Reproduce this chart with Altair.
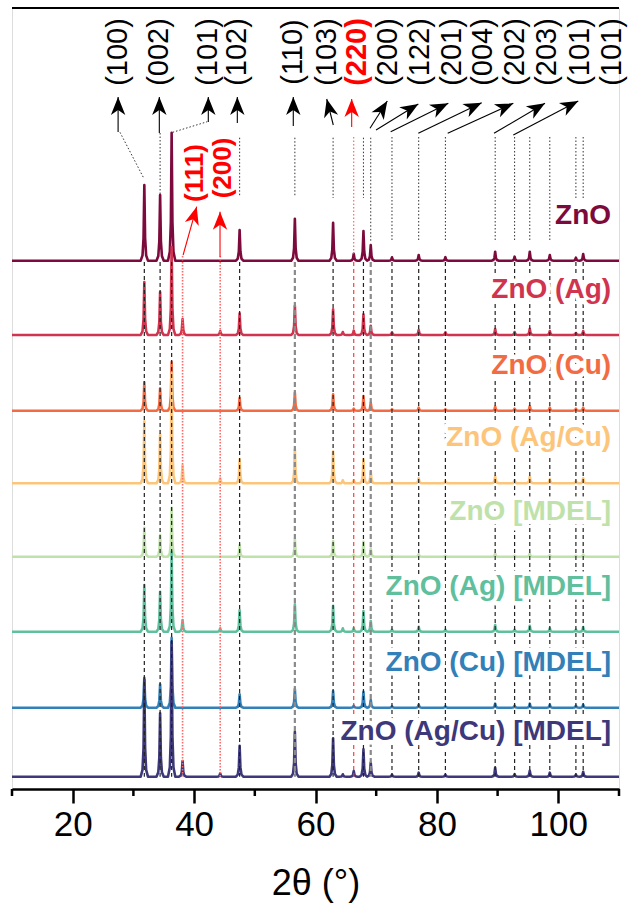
import math
import altair as alt
import pandas as pd

# ---------------- data ----------------
samples = ["ZnO", "ZnO (Ag)", "ZnO (Cu)", "ZnO (Ag/Cu)", "ZnO [MDEL]",
           "ZnO (Ag) [MDEL]", "ZnO (Cu) [MDEL]", "ZnO (Ag/Cu) [MDEL]"]
colors = ["#7d0a3c", "#d0344f", "#f26b43", "#fcc57a", "#bfe2ab",
          "#60bf9d", "#3380b8", "#3d3879"]
offsets = [528.3, 454.0, 378.3, 305.7, 232.3, 157.3, 81.3, 12.3]

peak_pos = [31.8, 34.4, 36.3, 38.1, 44.3, 47.5, 56.6, 62.9, 64.5, 66.3, 67.9,
            69.1, 72.6, 77.0, 81.4, 89.6, 92.8, 95.3, 98.6, 102.9, 104.1]
h_zno = [75.7, 65.7, 128, 0, 0, 30.7, 42, 38, 0, 7, 29.7, 15.7, 3.4, 5.7, 3.5, 9, 4, 9, 5.7, 3, 6.7]
h_ag = [53, 43, 88, 16, 4, 21.7, 29.3, 25.7, 3, 4.3, 20.7, 9.3, 2.7, 5, 2.7, 6, 3, 6.3, 4, 2, 4]
h_cu = [28.3, 22.3, 49, 0, 0, 13, 18, 16.3, 0, 2, 14.7, 8, 1.5, 3, 1.5, 4, 2, 4.7, 3, 2, 3]
h_agcu = [62, 49, 110, 18, 5, 24, 34, 31.7, 3, 3, 24, 11.6, 2, 5, 2, 7, 3, 6.5, 4, 2, 5]
h_mdel = [29, 21.7, 49, 0, 0, 11.7, 17.7, 15.7, 0, 2, 15, 8.4, 1, 2.5, 1, 3, 1, 3, 1.5, 1, 2]
h_ag_mdel = [46.7, 40, 80, 11.7, 3.4, 21.7, 27.4, 26, 3.4, 3.5, 20.7, 10.7, 2, 5, 2, 6.7, 2, 6, 3.5, 2, 4.7]
h_cu_mdel = [30, 23.4, 70, 0, 0, 13.4, 18.7, 16.7, 0, 2, 16, 7.7, 1.5, 3, 1.5, 4, 2, 4, 3, 2, 3]
h_agcu_mdel = [97, 63.4, 135, 15.7, 3.4, 31, 45, 38.4, 2.4, 5.7, 27.4, 14, 2, 4, 2, 9, 2.5, 6, 4, 2, 5]
heights = [h_zno, h_ag, h_cu, h_agcu, h_mdel, h_ag_mdel, h_cu_mdel, h_agcu_mdel]

# reference lines
black_lines = [31.8, 34.4, 36.3, 47.5, 62.9, 67.9, 72.6, 77.0, 81.4, 89.6,
               92.8, 95.3, 98.6, 102.9, 104.1]
gray_lines = [56.6, 69.1]
red_dashed = [66.3]
red_dotted = [38.1, 44.3]
lower_top, lower_bottom = 527.0, 12.3

# upper dotted connectors (x1, y1, x2, y2)
up_x1 = [27.79, 34.4, 36.47, 47.5, 56.6, 62.9, 67.9, 69.1, 72.6, 77.0, 81.4, 89.6, 92.8, 95.3, 98.6, 102.9, 104.1]
up_y1 = [656.7, 656.0, 656.7, 651.3, 651.3, 651.3, 651.3, 651.3, 652.0, 652.0, 652.0, 652.0, 652.0, 652.0, 652.0, 652.0, 652.0]
up_x2 = [31.63, 34.4, 42.17, 47.5, 56.6, 62.9, 67.9, 69.1, 72.6, 77.0, 81.4, 89.6, 92.8, 95.3, 98.6, 102.9, 104.1]
up_y2 = [611.7, 595.0, 667.3, 592.3, 592.3, 591.0, 591.0, 547.3, 548.0, 547.3, 549.0, 549.0, 549.0, 549.0, 549.0, 591.0, 591.0]

# hkl labels along the top
hkl_labels = ["(100)", "(002)", "(101)", "(102)", "(110)", "(103)", "(220)", "(200)",
              "(122)", "(201)", "(004)", "(202)", "(203)", "(101)", "(101)"]
hkl_x = [27.46, 34.27, 42.34, 47.12, 56.34, 61.84, 66.79, 71.94, 77.22, 82.44,
         87.55, 92.87, 98.09, 103.58, 108.80]
hkl_y = 737.0
hkl_red = [False, False, False, False, False, False, True, False,
           False, False, False, False, False, False, False]

# arrows: tail (x, y) -> tip (x, y)
arr_x1 = [27.48, 34.27, 42.34, 47.12, 56.34, 62.93, 65.96, 68.98, 69.97, 72.39, 76.94, 81.78, 89.41, 92.59]
arr_y1 = [657.0, 656.0, 667.0, 666.0, 663.0, 664.0, 662.0, 660.7, 659.0, 657.3, 655.7, 655.7, 655.7, 654.0]
arr_x2 = [27.48, 34.27, 42.34, 47.12, 56.34, 61.85, 65.96, 71.83, 76.94, 81.88, 87.38, 92.59, 97.81, 103.29]
arr_y2 = [692.0, 692.0, 692.0, 692.0, 692.0, 690.0, 690.0, 688.0, 685.0, 685.7, 686.3, 685.7, 685.7, 688.0]
arr_red = [False] * 6 + [True] + [False] * 7

# Ag reflections (red)
ag_labels = ["(111)", "(200)"]
ag_lab_x = [40.15, 44.81]
ag_lab_y = [616.0, 621.0]
ag_arr_x1 = [38.19, 44.27]
ag_arr_y1 = [534.0, 532.3]
ag_arr_x2 = [40.43, 44.27]
ag_arr_y2 = [582.3, 577.3]

x_ticks = [20, 40, 60, 80, 100]
x_minor = [10, 30, 50, 70, 90, 110]

# ---------------- layout ----------------
W, H = 607, 781
XMIN, XMAX, YMAX = 10, 110, 781
SX, SY = W / (XMAX - XMIN), H / YMAX
FONT = "Liberation Sans"

xs = alt.Scale(domain=[XMIN, XMAX], nice=False, zero=False)
ys = alt.Scale(domain=[0, YMAX], nice=False, zero=False)
x_axis = alt.Axis(values=x_ticks, tickSize=14, tickWidth=2.5, tickColor="black",
                  domainWidth=2.5, domainColor="black", labelFontSize=35,
                  labelFont=FONT, labelColor="black", labelPadding=4,
                  title="2θ (°)", titleFont=FONT, titleFontSize=36,
                  titleFontWeight="normal", titleColor="black",
                  titlePadding=24, grid=False, labelFlush=False)


def X(field):
    return alt.X(field, scale=xs, axis=x_axis)


def Y(field):
    return alt.Y(field, scale=ys, axis=None)


# profile shape used for every reflection (style)
prof_dx = [-0.6, -0.3, -0.13, 0.0, 0.13, 0.3, 0.6]
prof_f = [0.0, 0.07, 0.3, 1.0, 0.3, 0.07, 0.0]

layers = []

# traces
for s, col, off, hs in zip(samples, colors, offsets, heights):
    pts = {XMIN: off, XMAX: off}
    for p, h in zip(peak_pos, hs):
        if h <= 0:
            continue
        for dx, f in zip(prof_dx, prof_f):
            xx = round(p + dx, 3)
            pts[xx] = max(pts.get(xx, off), off + f * h)
    xs_sorted = sorted(pts)
    df = pd.DataFrame({"x": xs_sorted, "y": [pts[k] for k in xs_sorted],
                       "i": range(len(xs_sorted))})
    layers.append(
        alt.Chart(df).mark_line(color=col, strokeWidth=2.6, strokeJoin="round")
        .encode(x=X("x:Q"), y=Y("y:Q"), order="i:Q")
    )


def vlines(xvals, y1, y2, **kw):
    df = pd.DataFrame({"x": xvals, "y1": [y1] * len(xvals), "y2": [y2] * len(xvals)})
    return alt.Chart(df).mark_rule(**kw).encode(x=X("x:Q"), y=Y("y1:Q"), y2="y2:Q")


layers.append(vlines(black_lines, lower_top, lower_bottom, color="#222222",
                     strokeWidth=1.2, strokeDash=[4, 3]))
layers.append(vlines(gray_lines, lower_top, lower_bottom, color="#8a8a8a",
                     strokeWidth=2.2, strokeDash=[5, 3]))
layers.append(vlines(red_dashed, lower_top, lower_bottom, color="#ff2a2a",
                     strokeWidth=1.1, strokeDash=[4, 3]))
layers.append(vlines(red_dotted, 533.0, lower_bottom, color="#ff6a6a",
                     strokeWidth=1.6, strokeDash=[1.5, 1.5]))
layers.append(vlines(red_dashed, 652.0, 533.0, color="#ff4a4a",
                     strokeWidth=1.0, strokeDash=[1.5, 2]))

# upper connectors
up_df = pd.DataFrame({"x1": up_x1, "y1": up_y1, "x2": up_x2, "y2": up_y2})
layers.append(
    alt.Chart(up_df).mark_rule(color="#333333", strokeWidth=1.0, strokeDash=[1.5, 2])
    .encode(x=X("x1:Q"), x2="x2:Q", y=Y("y1:Q"), y2="y2:Q")
)

# arrows
head_path = "M0,0 L0.62,1.55 L0,1.12 L-0.62,1.55 Z"


def arrows(x1, y1, x2, y2, color, width):
    ang = [math.degrees(math.atan2((b - a) * SX, (d - c) * SY)) % 360
           for a, b, c, d in zip(x1, x2, y1, y2)]
    df = pd.DataFrame({"x1": x1, "y1": y1, "x2": x2, "y2": y2, "ang": ang})
    shaft = alt.Chart(df).mark_rule(color=color, strokeWidth=width).encode(
        x=X("x1:Q"), x2="x2:Q", y=Y("y1:Q"), y2="y2:Q")
    head = alt.Chart(df).mark_point(shape=head_path, filled=True, color=color,
                                    opacity=1, size=540, strokeWidth=0).encode(
        x=X("x2:Q"), y=Y("y2:Q"), angle=alt.Angle("ang:Q", scale=None))
    return [shaft, head]


bx1 = [v for v, r in zip(arr_x1, arr_red) if not r]
by1 = [v for v, r in zip(arr_y1, arr_red) if not r]
bx2 = [v for v, r in zip(arr_x2, arr_red) if not r]
by2 = [v for v, r in zip(arr_y2, arr_red) if not r]
rx1 = [v for v, r in zip(arr_x1, arr_red) if r] + ag_arr_x1
ry1 = [v for v, r in zip(arr_y1, arr_red) if r] + ag_arr_y1
rx2 = [v for v, r in zip(arr_x2, arr_red) if r] + ag_arr_x2
ry2 = [v for v, r in zip(arr_y2, arr_red) if r] + ag_arr_y2
layers += arrows(bx1, by1, bx2, by2, "black", 1.1)
layers += arrows(rx1, ry1, rx2, ry2, "#ff0000", 1.1)

# hkl labels
hkl_df = pd.DataFrame({"t": hkl_labels, "x": hkl_x, "y": [hkl_y] * len(hkl_x), "red": hkl_red})
layers.append(
    alt.Chart(hkl_df).transform_filter("!datum.red").mark_text(
        angle=270, align="center", baseline="middle", font=FONT, fontSize=29,
        color="black").encode(x=X("x:Q"), y=Y("y:Q"), text="t:N")
)
layers.append(
    alt.Chart(hkl_df).transform_filter("datum.red").mark_text(
        angle=270, align="center", baseline="middle", font=FONT, fontSize=29,
        fontWeight="bold", color="#ff0000").encode(x=X("x:Q"), y=Y("y:Q"), text="t:N")
)
ag_df = pd.DataFrame({"t": ag_labels, "x": ag_lab_x, "y": ag_lab_y})
layers.append(
    alt.Chart(ag_df).mark_text(angle=270, align="center", baseline="middle", font=FONT,
                               fontSize=26, fontWeight="bold", color="#ff0000")
    .encode(x=X("x:Q"), y=Y("y:Q"), text="t:N")
)

# sample labels (with white halo that interrupts the reference lines)
lab_df = pd.DataFrame({"t": samples, "y": offsets, "c": colors, "x": [108.7] * len(samples)})
for halo in (True, False):
    kw = dict(align="right", baseline="alphabetic", dy=-37, font=FONT, fontSize=28,
              fontWeight="bold")
    if halo:
        kw.update(stroke="white", strokeWidth=9, fill="white", strokeJoin="round")
        enc = dict()
    else:
        enc = dict(color=alt.Color("c:N", scale=None))
    layers.append(
        alt.Chart(lab_df).mark_text(**kw).encode(x=X("x:Q"), y=Y("y:Q"), text="t:N", **enc)
    )

# frame: top line, minor ticks
layers.append(
    alt.Chart(pd.DataFrame({"a": [0]})).mark_rule(color="black", strokeWidth=2.2)
    .encode(x=alt.value(0), x2=alt.value(W), y=alt.value(0))
)
minor_df = pd.DataFrame({"x": x_minor})
layers.append(
    alt.Chart(minor_df).mark_rule(color="black", strokeWidth=2.5)
    .encode(x=X("x:Q"), y=alt.value(H), y2=alt.value(H + 7))
)

chart = alt.layer(*layers).properties(
    width=W, height=H,
    padding={"left": 12, "top": 8, "right": 635 - 12 - W, "bottom": 907 - 8 - H},
    autosize=alt.AutoSizeParams(type="none"),
).configure_view(stroke=None).configure(background="white")

chart.save("out.html", embed_options={"renderer": "svg", "actions": False})
